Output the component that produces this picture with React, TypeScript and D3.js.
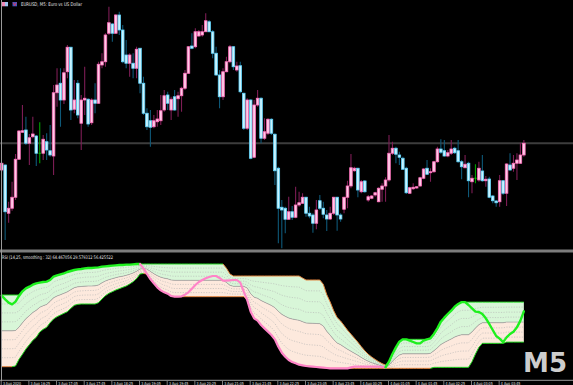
import React from 'react';
import * as d3 from 'd3';

// EURUSD M5 candles (prices)
const open = [1.17320, 1.17340, 1.17147, 1.17167, 1.17211, 1.17363, 1.17471, 1.17480, 1.17427, 1.17453,
  1.17456, 1.17387, 1.17387, 1.17433, 1.17397, 1.17376, 1.17629, 1.17667, 1.17600, 1.17713,
  1.17811, 1.17563, 1.17667, 1.17507, 1.17600, 1.17603, 1.17509, 1.17600, 1.17587, 1.17740,
  1.17753, 1.17867, 1.17904, 1.17867, 1.17940, 1.17880, 1.17780, 1.17747, 1.17747, 1.17727,
  1.17807, 1.17667, 1.17547, 1.17517, 1.17493, 1.17513, 1.17517, 1.17560, 1.17620, 1.17560,
  1.17613, 1.17605, 1.17617, 1.17647, 1.17707, 1.17816, 1.17813, 1.17856, 1.17860, 1.17873,
  1.17913, 1.17873, 1.17787, 1.17700, 1.17613, 1.17713, 1.17753, 1.17813, 1.17720, 1.17737,
  1.17627, 1.17487, 1.17600, 1.17371, 1.17580, 1.17607, 1.17447, 1.17467, 1.17523, 1.17463,
  1.17327, 1.17171, 1.17167, 1.17123, 1.17153, 1.17131, 1.17180, 1.17187, 1.17211, 1.17147,
  1.17140, 1.17107, 1.17197, 1.17167, 1.17140, 1.17124, 1.17147, 1.17211, 1.17140, 1.17163,
  1.17211, 1.17256, 1.17317, 1.17327, 1.17233, 1.17276, 1.17200, 1.17207, 1.17220, 1.17193,
  1.17243, 1.17256, 1.17280, 1.17387, 1.17407, 1.17380, 1.17367, 1.17327, 1.17227, 1.17245,
  1.17248, 1.17256, 1.17287, 1.17327, 1.17309, 1.17313, 1.17353, 1.17404, 1.17397, 1.17376,
  1.17387, 1.17407, 1.17397, 1.17353, 1.17329, 1.17347, 1.17273, 1.17287, 1.17280, 1.17316,
  1.17277, 1.17284, 1.17216, 1.17196, 1.17193, 1.17277, 1.17227, 1.17340, 1.17327, 1.17347,
  1.17347, 1.17380];
const high = [1.17349, 1.17342, 1.17193, 1.17273, 1.17384, 1.17480, 1.17580, 1.17533, 1.17464, 1.17533,
  1.17460, 1.17511, 1.17460, 1.17467, 1.17500, 1.17660, 1.17727, 1.17727, 1.17727, 1.17820,
  1.17813, 1.17680, 1.17680, 1.17620, 1.17733, 1.17607, 1.17607, 1.17667, 1.17753, 1.17787,
  1.17867, 1.17973, 1.17907, 1.17944, 1.17953, 1.17900, 1.17840, 1.17787, 1.17787, 1.17813,
  1.17807, 1.17693, 1.17567, 1.17560, 1.17540, 1.17560, 1.17620, 1.17640, 1.17633, 1.17613,
  1.17640, 1.17633, 1.17653, 1.17720, 1.17816, 1.17867, 1.17887, 1.17880, 1.17900, 1.17947,
  1.17920, 1.17880, 1.17813, 1.17720, 1.17727, 1.17773, 1.17820, 1.17816, 1.17753, 1.17753,
  1.17629, 1.17607, 1.17603, 1.17600, 1.17640, 1.17611, 1.17527, 1.17527, 1.17527, 1.17467,
  1.17333, 1.17200, 1.17173, 1.17213, 1.17176, 1.17253, 1.17233, 1.17227, 1.17213, 1.17173,
  1.17147, 1.17200, 1.17220, 1.17193, 1.17160, 1.17173, 1.17213, 1.17213, 1.17147, 1.17213,
  1.17277, 1.17384, 1.17333, 1.17329, 1.17280, 1.17280, 1.17220, 1.17220, 1.17233, 1.17251,
  1.17267, 1.17291, 1.17460, 1.17433, 1.17413, 1.17393, 1.17373, 1.17333, 1.17253, 1.17267,
  1.17256, 1.17293, 1.17327, 1.17360, 1.17327, 1.17357, 1.17413, 1.17443, 1.17440, 1.17400,
  1.17440, 1.17413, 1.17440, 1.17360, 1.17380, 1.17353, 1.17300, 1.17343, 1.17353, 1.17380,
  1.17296, 1.17293, 1.17220, 1.17200, 1.17300, 1.17280, 1.17347, 1.17387, 1.17380, 1.17387,
  1.17429, 1.17440];
const low = [1.17313, 1.17040, 1.17109, 1.17157, 1.17200, 1.17360, 1.17469, 1.17420, 1.17340, 1.17447,
  1.17336, 1.17347, 1.17360, 1.17360, 1.17373, 1.17300, 1.17573, 1.17493, 1.17584, 1.17687,
  1.17520, 1.17547, 1.17527, 1.17400, 1.17540, 1.17493, 1.17500, 1.17547, 1.17584, 1.17727,
  1.17733, 1.17860, 1.17833, 1.17864, 1.17860, 1.17747, 1.17727, 1.17693, 1.17687, 1.17687,
  1.17627, 1.17540, 1.17480, 1.17413, 1.17487, 1.17493, 1.17500, 1.17553, 1.17560, 1.17520,
  1.17557, 1.17533, 1.17553, 1.17640, 1.17704, 1.17803, 1.17807, 1.17853, 1.17853, 1.17873,
  1.17871, 1.17767, 1.17696, 1.17567, 1.17600, 1.17711, 1.17747, 1.17720, 1.17713, 1.17627,
  1.17480, 1.17480, 1.17363, 1.17367, 1.17573, 1.17427, 1.17440, 1.17460, 1.17460, 1.17260,
  1.17027, 1.17007, 1.17067, 1.17120, 1.17120, 1.17127, 1.17173, 1.17184, 1.17133, 1.17127,
  1.17069, 1.17083, 1.17160, 1.17127, 1.17076, 1.17120, 1.17140, 1.17077, 1.17113, 1.17147,
  1.17167, 1.17247, 1.17313, 1.17211, 1.17227, 1.17229, 1.17193, 1.17203, 1.17213, 1.17191,
  1.17193, 1.17193, 1.17273, 1.17380, 1.17347, 1.17340, 1.17320, 1.17224, 1.17224, 1.17240,
  1.17245, 1.17253, 1.17283, 1.17300, 1.17273, 1.17309, 1.17349, 1.17384, 1.17373, 1.17371,
  1.17380, 1.17384, 1.17349, 1.17283, 1.17327, 1.17211, 1.17227, 1.17267, 1.17273, 1.17273,
  1.17253, 1.17207, 1.17187, 1.17173, 1.17173, 1.17220, 1.17176, 1.17317, 1.17313, 1.17280,
  1.17344, 1.17373];
const close = [1.17347, 1.17153, 1.17167, 1.17211, 1.17363, 1.17476, 1.17477, 1.17427, 1.17449, 1.17464,
  1.17387, 1.17387, 1.17443, 1.17400, 1.17380, 1.17629, 1.17660, 1.17600, 1.17709, 1.17811,
  1.17560, 1.17600, 1.17540, 1.17600, 1.17607, 1.17504, 1.17600, 1.17587, 1.17743, 1.17753,
  1.17860, 1.17909, 1.17867, 1.17940, 1.17880, 1.17753, 1.17747, 1.17780, 1.17727, 1.17803,
  1.17667, 1.17547, 1.17493, 1.17491, 1.17517, 1.17524, 1.17557, 1.17617, 1.17587, 1.17603,
  1.17560, 1.17617, 1.17647, 1.17707, 1.17813, 1.17807, 1.17873, 1.17873, 1.17873, 1.17917,
  1.17873, 1.17787, 1.17700, 1.17613, 1.17713, 1.17753, 1.17813, 1.17733, 1.17736, 1.17633,
  1.17487, 1.17600, 1.17367, 1.17580, 1.17607, 1.17447, 1.17473, 1.17523, 1.17467, 1.17317,
  1.17167, 1.17160, 1.17123, 1.17153, 1.17131, 1.17180, 1.17189, 1.17211, 1.17147, 1.17136,
  1.17107, 1.17160, 1.17167, 1.17143, 1.17124, 1.17147, 1.17211, 1.17140, 1.17124, 1.17211,
  1.17256, 1.17329, 1.17327, 1.17240, 1.17273, 1.17233, 1.17213, 1.17216, 1.17229, 1.17247,
  1.17256, 1.17280, 1.17387, 1.17407, 1.17383, 1.17371, 1.17323, 1.17229, 1.17249, 1.17251,
  1.17253, 1.17289, 1.17324, 1.17303, 1.17313, 1.17353, 1.17404, 1.17391, 1.17376, 1.17389,
  1.17404, 1.17389, 1.17353, 1.17333, 1.17343, 1.17277, 1.17287, 1.17287, 1.17327, 1.17277,
  1.17283, 1.17211, 1.17197, 1.17189, 1.17277, 1.17227, 1.17344, 1.17320, 1.17347, 1.17360,
  1.17380, 1.17427];

// RSI window: line, upper band, lower band
const rsi = [70.10, 66.90, 63.99, 62.54, 64.86, 69.81, 73.88, 76.50, 77.95, 79.70,
  80.86, 81.44, 82.03, 82.32, 83.77, 86.68, 87.84, 88.72, 89.59, 90.75,
  91.62, 92.50, 93.08, 93.37, 93.95, 94.24, 94.24, 94.53, 94.82, 95.41,
  95.70, 95.99, 96.28, 96.57, 96.86, 96.86, 97.15, 97.15, 97.44, 97.73,
  97.73, 93.95, 89.01, 84.64, 80.86, 77.37, 74.75, 73.01, 71.84, 69.81,
  69.23, 69.23, 69.52, 70.97, 73.01, 76.21, 79.41, 82.03, 83.77, 85.22,
  86.39, 87.26, 87.26, 85.52, 83.19, 83.19, 83.48, 83.77, 83.77, 81.44,
  73.59, 66.32, 56.14, 50.32, 48.28, 44.50, 41.59, 38.69, 35.78, 32.00,
  25.60, 20.36, 16.87, 13.96, 12.22, 11.05, 9.89, 9.31, 8.73, 8.44,
  8.14, 7.85, 7.56, 7.27, 6.98, 6.69, 6.69, 6.69, 6.69, 6.69,
  6.69, 7.56, 8.14, 8.14, 8.14, 8.14, 8.14, 8.14, 8.14, 8.14,
  7.85, 7.56, 12.51, 19.20, 25.01, 29.96, 32.00, 32.00, 30.83, 29.67,
  28.51, 28.51, 30.83, 32.00, 32.87, 36.65, 41.59, 47.41, 50.90, 54.10,
  57.01, 60.50, 62.83, 64.47, 64.47, 61.96, 59.05, 56.14, 55.85, 54.10,
  50.32, 45.38, 40.14, 34.90, 32.58, 29.58, 33.74, 36.65, 38.69, 42.47,
  48.28, 56.43];
const bandUp = [70.68, 70.68, 70.68, 70.68, 70.68, 70.68, 73.88, 76.50, 77.95, 79.70,
  80.86, 81.44, 82.03, 82.32, 83.77, 86.68, 87.84, 88.72, 89.59, 90.75,
  91.62, 92.50, 93.08, 93.37, 93.95, 94.24, 94.24, 94.53, 94.82, 95.41,
  95.70, 95.99, 96.28, 96.57, 96.86, 96.86, 97.15, 97.15, 97.44, 97.73,
  97.73, 97.73, 97.73, 97.73, 97.73, 97.73, 97.73, 97.73, 97.73, 97.73,
  97.73, 97.73, 97.73, 97.73, 97.73, 97.73, 97.73, 97.73, 97.73, 97.73,
  97.73, 97.73, 97.73, 97.73, 97.73, 93.95, 89.01, 87.26, 87.26, 87.26,
  87.26, 87.26, 87.26, 87.26, 87.26, 87.26, 87.26, 87.26, 87.26, 87.26,
  87.26, 87.26, 87.26, 87.26, 87.26, 87.26, 87.26, 85.52, 83.77, 83.77,
  83.77, 83.77, 83.77, 80.00, 71.00, 64.50, 57.00, 51.00, 48.00, 44.00,
  40.00, 36.50, 33.00, 29.50, 25.60, 22.00, 19.00, 16.50, 14.50, 12.50,
  10.80, 9.50, 12.51, 19.20, 25.01, 29.96, 32.00, 32.00, 32.00, 32.00,
  32.00, 32.00, 32.00, 32.00, 32.87, 36.65, 41.59, 47.41, 50.90, 54.10,
  57.01, 60.50, 62.83, 64.47, 64.47, 64.47, 64.47, 64.47, 64.47, 64.47,
  64.47, 64.47, 64.47, 64.47, 64.47, 64.47, 64.47, 64.47, 64.47, 64.47,
  64.47, 64.47];
const bandLow = [8.14, 8.14, 8.14, 8.14, 8.73, 14.54, 18.91, 23.56, 27.34, 31.12,
  33.74, 38.39, 40.72, 42.47, 46.54, 49.74, 51.77, 53.23, 54.68, 56.14,
  59.05, 61.66, 62.54, 62.83, 62.83, 62.83, 62.83, 62.83, 63.99, 67.19,
  70.10, 72.14, 73.59, 75.04, 76.21, 77.37, 78.53, 80.28, 82.32, 84.93,
  89.01, 89.50, 89.01, 84.64, 80.86, 77.37, 74.75, 73.01, 71.84, 69.81,
  69.23, 69.23, 69.23, 69.23, 69.23, 69.23, 69.23, 69.23, 69.23, 69.23,
  69.23, 69.23, 69.23, 69.23, 69.23, 69.23, 69.23, 69.23, 69.23, 69.23,
  69.23, 66.32, 56.14, 50.32, 48.28, 44.50, 41.59, 38.69, 35.78, 32.00,
  25.60, 20.36, 16.87, 13.96, 12.22, 11.05, 9.89, 9.31, 8.73, 8.44,
  8.14, 7.85, 7.56, 7.27, 6.98, 6.69, 6.69, 6.69, 6.69, 6.69,
  6.69, 6.69, 6.69, 6.69, 6.69, 6.69, 6.69, 6.69, 6.69, 6.69,
  6.69, 6.69, 6.69, 6.69, 6.69, 6.69, 6.69, 6.69, 6.69, 6.69,
  6.69, 6.69, 6.69, 6.69, 6.69, 7.56, 7.56, 7.56, 7.56, 7.56,
  7.56, 7.56, 7.56, 7.56, 7.56, 7.56, 12.51, 19.20, 25.01, 28.51,
  28.51, 28.51, 28.51, 28.51, 28.51, 28.51, 29.58, 29.58, 29.58, 29.58,
  29.58, 29.58];
// bars where the RSI line flips colour (starts green)
const rsiTurns = [40, 111];

const timeLabels = ['3 Aug 2020', '3 Aug 16:25', '3 Aug 17:05', '3 Aug 17:45', '3 Aug 18:25',
  '3 Aug 19:05', '3 Aug 19:45', '3 Aug 20:25', '3 Aug 21:05', '3 Aug 21:45', '3 Aug 22:25',
  '3 Aug 23:05', '3 Aug 23:45', '4 Aug 00:25', '4 Aug 01:05', '4 Aug 01:45', '4 Aug 02:25',
  '4 Aug 03:05', '4 Aug 03:45'];
const barsPerLabel = 8;

const W = 573;
const H = 385;
const tiny = 'DejaVu Sans, Verdana, sans-serif';

export default function App() {
  const n = close.length;
  const idx = d3.range(n);
  const x = d3.scaleLinear().domain([0, n - 1]).range([1.7, 1.7 + 3.458 * (n - 1)]);
  const yP = d3.scaleLinear().domain([1.17, 1.18]).range([250, 0]);
  const yR = d3.scaleLinear().domain([0, 100]).range([376, 261.4]);

  // levels between the bands, k/8 of the way up
  const level = (k: number) => idx.map(i => bandLow[i] + (bandUp[i] - bandLow[i]) * k / 8);
  const mid = level(4);

  const areaBetween = (a: number[], b: number[]) =>
    d3.area<number>().x(i => x(i)).y0(i => yR(a[i])).y1(i => yR(b[i]))(idx) || '';
  const pathOf = (vals: number[], pts: number[]) =>
    d3.line<number>().x(i => x(i)).y(i => yR(vals[i]))(pts) || '';

  // band outline: green while the band last moved up, orange after it moved down
  const runs = (vals: number[], startUp: boolean) => {
    const out: { up: boolean; pts: number[] }[] = [];
    let up = startUp;
    let cur = [0];
    for (let i = 1; i < n; i++) {
      const u = vals[i] > vals[i - 1] ? true : vals[i] < vals[i - 1] ? false : up;
      if (u !== up) {
        if (cur.length > 1) out.push({ up, pts: cur });
        cur = [i - 1];
        up = u;
      }
      cur.push(i);
    }
    out.push({ up, pts: cur });
    return out;
  };

  const stops = [0, ...rsiTurns, n - 1];
  const rsiSegs = stops.slice(1).map((end, k) => ({
    green: k % 2 === 0,
    pts: d3.range(stops[k], end + 1),
  }));

  const ticks = timeLabels.map((t, k) => ({ t, i: k * barsPerLabel }));

  return (
    <svg width={W} height={H} style={{ position: 'absolute', left: 0, top: 0, display: 'block' }}>
      <rect width={W} height={H} fill="#000" />

      {/* bid line */}
      <line x1={0} x2={W} y1={yP(close[n - 1])} y2={yP(close[n - 1])} stroke="#3d3d3d" strokeWidth={1.8} />

      {/* candles */}
      {idx.map(i => {
        const o = open[i], c = close[i];
        const doji = o === c;
        const bull = c > o;
        const wick = doji ? '#00a000' : bull ? '#7d1d55' : '#0e5878';
        const top = yP(Math.max(o, c));
        const h = Math.max(1, Math.abs(yP(o) - yP(c)));
        return (
          <g key={i}>
            <line x1={x(i)} x2={x(i)} y1={yP(high[i])} y2={yP(low[i])} stroke={wick} strokeWidth={1.1} />
            {doji ? (
              <line x1={x(i) - 1.3} x2={x(i) + 1.3} y1={top} y2={top} stroke="#00c000" strokeWidth={1} />
            ) : (
              <rect x={x(i) - 1.3} y={top} width={2.6} height={h}
                fill={bull ? '#ffcbe7' : '#caf3ff'} stroke={bull ? '#ff6fbc' : '#5fd3fa'} strokeWidth={0.8} />
            )}
          </g>
        );
      })}

      {/* header */}
      <rect x={2} y={2} width={3} height={4.3} fill="#f08ab8" />
      <rect x={5} y={2} width={3} height={4.3} fill="#9fc4f0" />
      <rect x={12.5} y={2} width={4.5} height={4.3} fill="#3a5cc8" />
      <path d="M13.2,2.6 L14.75,5.6 L16.3,2.6" fill="none" stroke="#f03050" strokeWidth={0.9} />
      <text x={21} y={6.2} fontSize={5} fontFamily={tiny} fill="#e6e6e6" textLength={61} lengthAdjust="spacingAndGlyphs">
        EURUSD, M5: Euro vs US Dollar
      </text>

      {/* window separator */}
      <rect x={0} y={249.5} width={W} height={3} fill="#7c7c7c" />
      <text x={2} y={259} fontSize={4.8} fontFamily={tiny} fill="#e6e6e6" textLength={111} lengthAdjust="spacingAndGlyphs">
        RSI (14,25, smoothing : 32) 64.467056 29.579312 56.425522
      </text>

      {/* RSI bands */}
      <path d={areaBetween(mid, bandUp)} fill="#d8f6d8" />
      <path d={areaBetween(bandLow, mid)} fill="#fde9dd" />
      {[1, 2, 3, 5, 6, 7].map(k => (
        <path key={k} d={pathOf(level(k), idx)} fill="none" stroke="#b4b4b4" strokeWidth={0.6} strokeDasharray="1.2,1.4" />
      ))}
      <path d={pathOf(mid, idx)} fill="none" stroke="#a8a8a8" strokeWidth={0.8} />
      {runs(bandUp, true).map((r, k) => (
        <path key={'u' + k} d={pathOf(bandUp, r.pts)} fill="none" stroke={r.up ? '#22d822' : '#e2843f'} strokeWidth={1} />
      ))}
      {runs(bandLow, false).map((r, k) => (
        <path key={'l' + k} d={pathOf(bandLow, r.pts)} fill="none" stroke={r.up ? '#22d822' : '#e2843f'} strokeWidth={1} />
      ))}
      {rsiSegs.map((s, k) => (
        <path key={'r' + k} d={pathOf(rsi, s.pts)} fill="none"
          stroke={s.green ? '#1ef01e' : '#ff84c8'} strokeWidth={s.green ? 2.4 : 2.2}
          strokeLinejoin="round" strokeLinecap="round" />
      ))}

      {/* timeframe watermark */}
      <text x={523} y={372} fontSize={27} fontWeight="bold" fontFamily="DejaVu Sans, sans-serif" fill="#cdcdcd"
        textLength={44} lengthAdjust="spacingAndGlyphs">
        M5
      </text>

      {/* left border and time axis */}
      <line x1={1.5} x2={1.5} y1={0} y2={381} stroke="#9a9a9a" strokeWidth={1} />
      <line x1={0} x2={W} y1={380.3} y2={380.3} stroke="#9a9a9a" strokeWidth={1} />
      {ticks.map(({ t, i }) => (
        <g key={t}>
          <line x1={x(i) - 0.5} x2={x(i) - 0.5} y1={381} y2={385} stroke="#9a9a9a" strokeWidth={0.8} />
          <text x={x(i) + 1.2} y={384.6} fontSize={4} fontFamily={tiny} fill="#e0e0e0"
            textLength={t.length > 10 ? 19.5 : 18} lengthAdjust="spacingAndGlyphs">
            {t}
          </text>
        </g>
      ))}
    </svg>
  );
}
